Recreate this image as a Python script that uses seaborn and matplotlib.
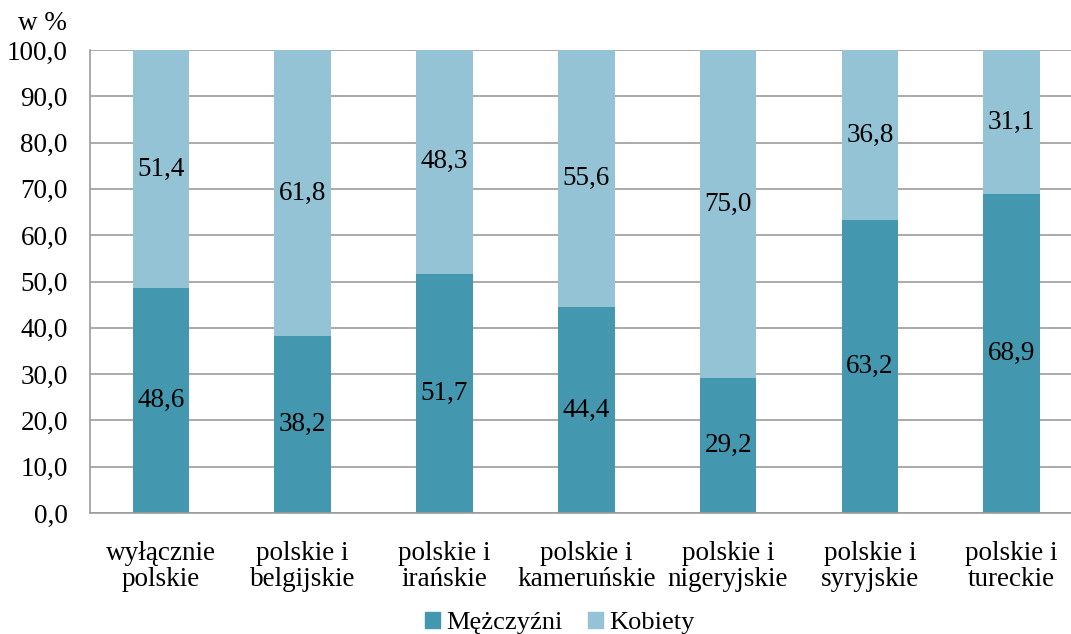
import matplotlib
matplotlib.use("Agg")
import matplotlib.pyplot as plt
import numpy as np
import pandas as pd
import seaborn as sns
from matplotlib.patches import Patch

# Data
categories = ["wyłącznie\npolskie", "polskie i\nbelgijskie", "polskie i\nirańskie",
              "polskie i\nkameruńskie", "polskie i\nnigeryjskie", "polskie i\nsyryjskie",
              "polskie i\ntureckie"]
men = [48.6, 38.2, 51.7, 44.4, 29.2, 63.2, 68.9]
women = [51.4, 61.8, 48.3, 55.6, 75.0, 36.8, 31.1]
y_ticks = [0, 10, 20, 30, 40, 50, 60, 70, 80, 90, 100]

df = pd.DataFrame({"cat": categories, "men": men, "women": women})

dark = "#4397AE"
light = "#93C3D4"
grid_col = "#9C9C9C"
fs = 19.5

sns.set_style("white")
plt.rcParams["font.family"] = ["Liberation Serif", "DejaVu Serif"]
plt.rcParams["text.color"] = "black"
plt.rcParams["xtick.color"] = "black"
plt.rcParams["ytick.color"] = "black"

fig = plt.figure(figsize=(10.71, 6.34), dpi=100)
ax = fig.add_axes([90 / 1071, 121 / 634, 992.6 / 1071, 463 / 634])

sns.barplot(data=df, x="cat", y="men", order=categories, color=dark,
            width=0.4, saturation=1, linewidth=0, ax=ax)
sns.barplot(data=df, x="cat", y="women", order=categories, color=light,
            width=0.4, saturation=1, linewidth=0, bottom=df["men"].values, ax=ax)

# value labels at segment centres
for i, (m, w) in enumerate(zip(men, women)):
    ax.text(i, m / 2, f"{m:.1f}".replace(".", ","), ha="center", va="center", fontsize=fs)
    ax.text(i, m + w / 2, f"{w:.1f}".replace(".", ","), ha="center", va="center", fontsize=fs)

ax.set_ylim(0, 100)
ax.set_xlim(-0.5, 6.5)
ax.set_yticks(y_ticks)
ax.set_yticklabels([f"{v:.1f}".replace(".", ",") for v in y_ticks], fontsize=fs)
ax.set_xticks(range(len(categories)))
ax.set_xticklabels(categories, fontsize=fs, linespacing=1.08)
ax.set_xticks(np.arange(-0.5, len(categories), 1), minor=True)
ax.tick_params(axis="x", which="major", length=0, pad=20)
ax.tick_params(axis="x", which="minor", length=5, color=grid_col, width=1.2)
ax.tick_params(axis="y", length=6, color=grid_col, width=1.2, pad=10)
ax.set_xlabel("")
ax.set_ylabel("")

ax.set_axisbelow(True)
ax.yaxis.grid(True, color=grid_col, linewidth=1.2)
for side in ["top", "right"]:
    ax.spines[side].set_visible(False)
for side in ["left", "bottom"]:
    ax.spines[side].set_color(grid_col)
    ax.spines[side].set_linewidth(1.2)

fig.text(42 / 1071, 1 - 24 / 634, "w %", ha="center", va="center", fontsize=fs)

handles = [Patch(color=dark, label="Mężczyźni"), Patch(color=light, label="Kobiety")]
fig.legend(handles=handles, loc="center", bbox_to_anchor=(560 / 1071, 1 - 623 / 634),
           ncol=2, frameon=False, fontsize=19, handlelength=0.55, handleheight=0.55,
           handletextpad=0.25, columnspacing=0.95)

fig.savefig("out.png", dpi=100)
